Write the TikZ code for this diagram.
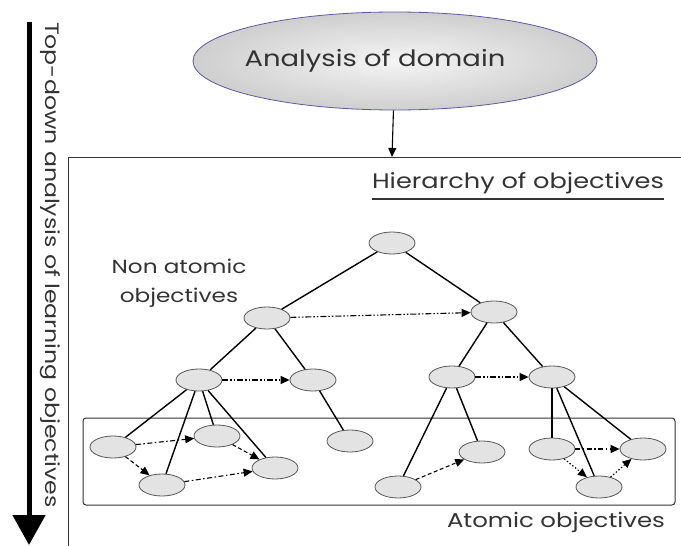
\documentclass[tikz,border=0pt]{standalone}
\usepackage{fontspec}
\setmainfont{Poppins}[FakeStretch=1.22]
\usetikzlibrary{shapes.geometric,arrows.meta}

\tikzset{
  objnode/.style={ellipse, draw=gray!70!black, line width=0.8pt, fill=gray!22,
    minimum width=46pt, minimum height=22pt, inner sep=0pt},
  treeline/.style={line width=1.4pt},
  linkarrow/.style={line width=1.1pt, -{Triangle[length=9pt,width=8pt]}},
  dashdotdot/.style={dash pattern=on 6pt off 2pt on 1.5pt off 2pt on 1.5pt off 2pt},
  dashdot/.style={dash pattern=on 5pt off 2.5pt on 1.5pt off 2.5pt},
  dashonly/.style={dash pattern=on 4pt off 2.5pt},
  dotonly/.style={dash pattern=on 1.5pt off 2pt},
  labeltext/.style={text=black!80, font=\fontsize{20}{24}\selectfont}
}

\begin{document}
\begin{tikzpicture}[x=1pt,y=-1pt]
  \useasboundingbox (0,0) rectangle (681,546);

  % Top-down arrow on the left
  \coordinate (arrowtop) at (29,22);
  \coordinate (arrowbot) at (29,545);
  \draw[line width=5pt, -{Triangle[length=30pt,width=32pt]}] (arrowtop) -- (arrowbot);
  \node[labeltext, font=\fontsize{19.4}{24}\selectfont, rotate=-90] (topdown) at (50,265)
    {Top-down analysis of learning objectives};

  % Analysis of domain
  \node[ellipse, draw=blue!30!gray, line width=0.8pt, inner color=gray!8, outer color=gray!38,
    minimum width=404pt, minimum height=98pt] (domain) at (395,61) {};
  \node[labeltext, font=\fontsize{22.5}{26}\selectfont] (domaintext) at (375,61)
    {Analysis of domain};

  % Open frame of the hierarchy
  \coordinate (frametl) at (68,157);
  \draw[line width=0.9pt, black!80] (681,157) -- (frametl) -- (68,546);
  \coordinate (framein) at (392,157);
  \draw[line width=1.1pt, -{Triangle[length=9pt,width=8pt]}] (domain) -- (framein);

  % Labels
  \node[labeltext, font=\fontsize{21}{24}\selectfont, inner sep=0pt] (hier) at (518,183)
    {Hierarchy of objectives};
  \draw[line width=1.5pt, black!80] ([yshift=-5pt]hier.south west) -- ([yshift=-5pt]hier.south east);
  \node[labeltext, font=\fontsize{19}{29}\selectfont, align=center] (nonatomic) at (179,283)
    {Non atomic\\objectives};
  \node[labeltext] (atomic) at (556,522) {Atomic objectives};

  % Box of atomic objectives
  \draw[line width=1pt, black!80, rounded corners=3pt] (83,418) rectangle (675,505);

  % Non atomic objectives
  \node[objnode] (root) at (392,243) {};
  \node[objnode] (left) at (267,318) {};
  \node[objnode] (right) at (494,312) {};
  \node[objnode] (lla) at (199,380) {};
  \node[objnode] (llb) at (313,380) {};
  \node[objnode] (rla) at (452,377) {};
  \node[objnode] (rlb) at (552,377) {};

  % Atomic objectives
  \node[objnode] (a1) at (113,447) {};
  \node[objnode] (a2) at (217,436) {};
  \node[objnode] (a3) at (162,485) {};
  \node[objnode] (a4) at (275,468) {};
  \node[objnode] (a5) at (350,441) {};
  \node[objnode] (a6) at (398,487) {};
  \node[objnode] (a7) at (482,452) {};
  \node[objnode] (a8) at (552,449) {};
  \node[objnode] (a9) at (599,487) {};
  \node[objnode] (a10) at (643,449) {};

  % Decomposition
  \draw[treeline] (root) -- (left);
  \draw[treeline] (root) -- (right);
  \draw[treeline] (left) -- (lla);
  \draw[treeline] (left) -- (llb);
  \draw[treeline] (right) -- (rla);
  \draw[treeline] (right) -- (rlb);
  \draw[treeline] (lla) -- (a1);
  \draw[treeline] (lla) -- (a3);
  \draw[treeline] (lla) -- (a2);
  \draw[treeline] (lla) -- (a4);
  \draw[treeline] (llb) -- (a5);
  \draw[treeline] (rla) -- (a6);
  \draw[treeline] (rla) -- (a7);
  \draw[treeline] (rlb.south) -- (a8.north);
  \draw[treeline] (rlb) -- (a9);
  \draw[treeline] (rlb) -- (a10);

  % Order between objectives
  \draw[linkarrow, dashdotdot] (left) -- (right);
  \draw[linkarrow, dashdotdot] (lla) -- (llb);
  \draw[linkarrow, dashdotdot] (rla) -- (rlb);
  \draw[linkarrow, dashdot] (a1) -- (a2);
  \draw[linkarrow, dashonly] (a1) -- (a3);
  \draw[linkarrow, dashonly] (a2) -- (a4);
  \draw[linkarrow, dashdot] (a3) -- (a4);
  \draw[linkarrow, dashonly] (a6) -- (a7);
  \draw[linkarrow, dashdot] (a8) -- (a10);
  \draw[linkarrow, dotonly] (a8) -- (a9);
  \draw[linkarrow, dotonly] (a9) -- (a10);
\end{tikzpicture}
\end{document}
